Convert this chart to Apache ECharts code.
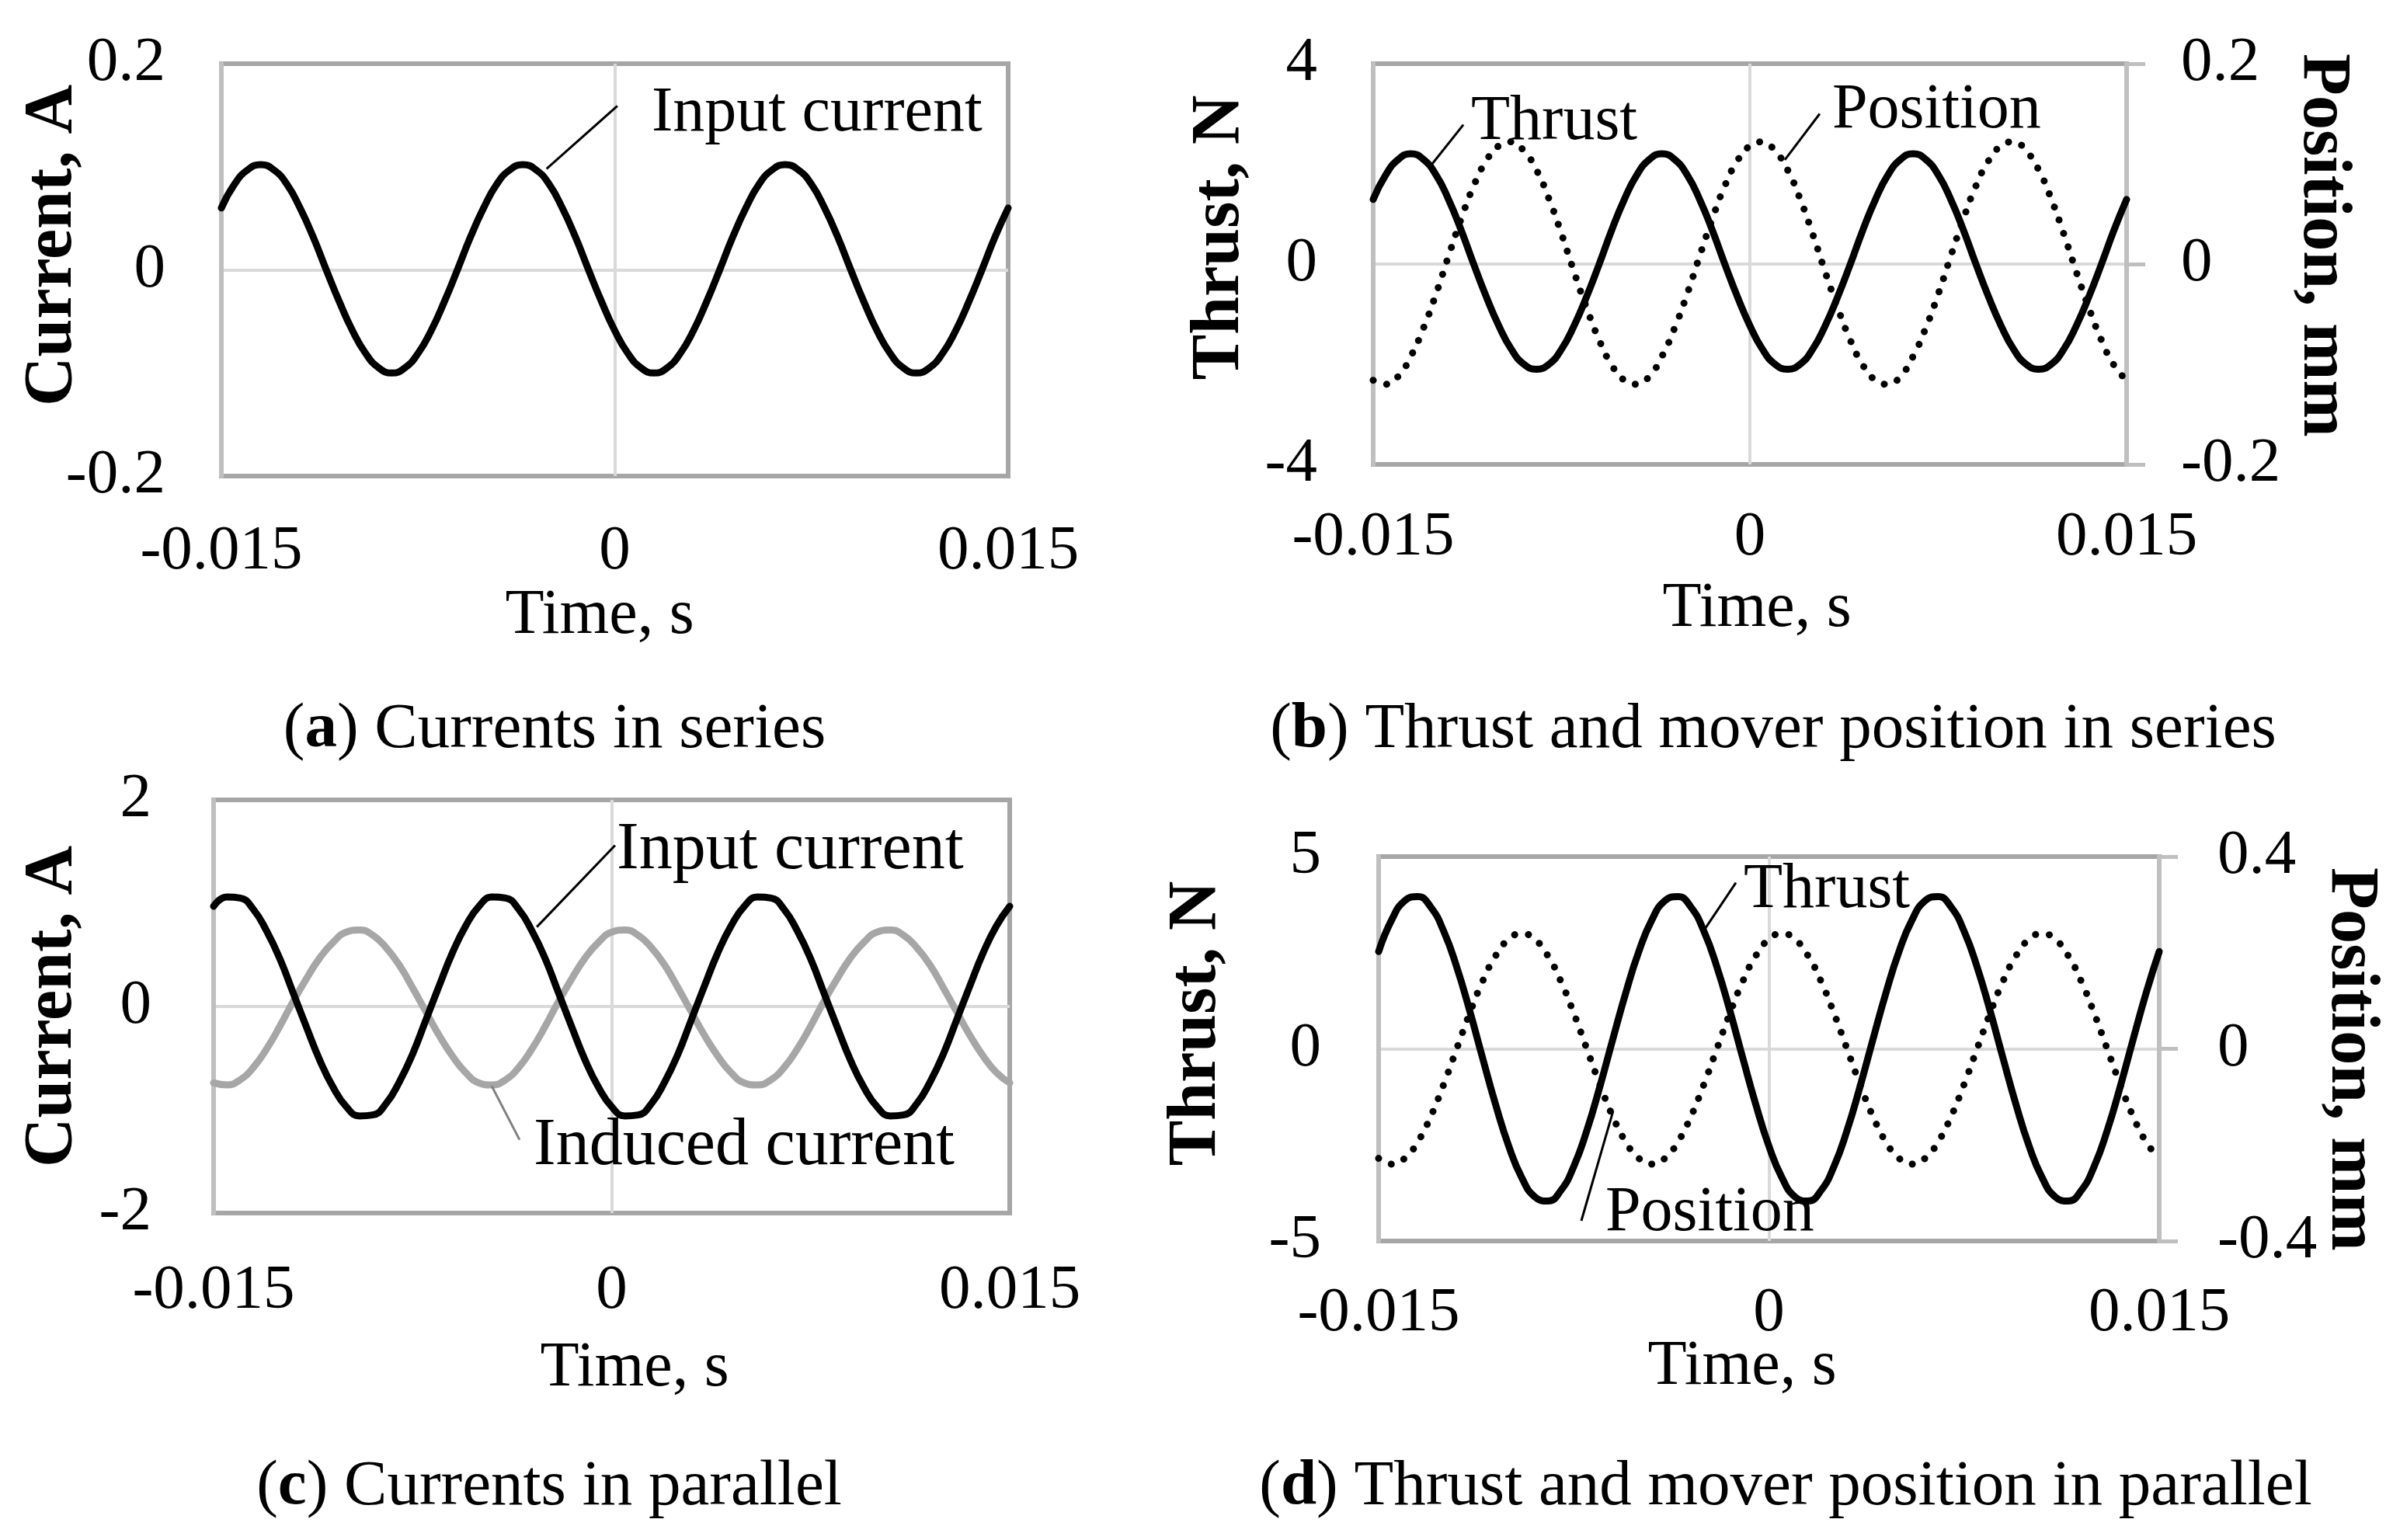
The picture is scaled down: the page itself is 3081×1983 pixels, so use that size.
<!DOCTYPE html>
<html><head><meta charset="utf-8">
<script src="https://cdn.jsdelivr.net/npm/echarts@6/dist/echarts.min.js"></script>
<style>html,body{margin:0;padding:0;background:#fff}#c{width:3081px;height:1983px}</style>
</head><body><div id="c"></div>
<script>
// ---------- data ----------
const time = [
-0.015,-0.0145,-0.014,-0.0135,-0.013,-0.0125,-0.012,-0.0115,-0.011,-0.0105,
-0.01,-0.0095,-0.009,-0.0085,-0.008,-0.0075,-0.007,-0.0065,-0.006,-0.0055,
-0.005,-0.0045,-0.004,-0.0035,-0.003,-0.0025,-0.002,-0.0015,-0.001,-0.0005,
0,0.0005,0.001,0.0015,0.002,0.0025,0.003,0.0035,0.004,0.0045,
0.005,0.0055,0.006,0.0065,0.007,0.0075,0.008,0.0085,0.009,0.0095,
0.01,0.0105,0.011,0.0115,0.012,0.0125,0.013,0.0135,0.014,0.0145,0.015];

const xTicks = [-0.015, 0, 0.015];
const xTickLabels = ['-0.015', '0', '0.015'];
const aTicks = [-0.2, 0, 0.2];      const aTickLabels = ['-0.2', '0', '0.2'];
const bLeftTicks = [-4, 0, 4];      const bLeftTickLabels = ['-4', '0', '4'];
const bRightTicks = [-0.2, 0, 0.2]; const bRightTickLabels = ['-0.2', '0', '0.2'];
const cTicks = [-2, 0, 2];          const cTickLabels = ['-2', '0', '2'];
const dLeftTicks = [-5, 0, 5];      const dLeftTickLabels = ['-5', '0', '5'];
const dRightTicks = [-0.4, 0, 0.4]; const dRightTickLabels = ['-0.4', '0', '0.4'];

// (a) input current in series, A
const aInputCurrent = [
0.060,0.083,0.097,0.102,0.097,0.083,0.060,0.032,0.000,-0.031,-0.059,-0.081,-0.095,-0.100,-0.095,-0.081,-0.059,-0.031,0.000,0.032,
0.060,0.083,0.097,0.102,0.097,0.083,0.060,0.032,0.000,-0.031,-0.059,-0.081,-0.095,-0.100,-0.095,-0.081,-0.059,-0.031,0.000,0.032,
0.060,0.083,0.097,0.102,0.097,0.083,0.060,0.032,0.000,-0.031,-0.059,-0.081,-0.095,-0.100,-0.095,-0.081,-0.059,-0.031,0.000,0.032,
0.060];
// (b) thrust, N and position, mm in series
const bThrust = [
1.29,1.78,2.09,2.20,2.09,1.78,1.29,0.68,0.00,-0.65,-1.23,-1.70,-2.00,-2.10,-2.00,-1.70,-1.23,-0.65,0.00,0.68,
1.29,1.78,2.09,2.20,2.09,1.78,1.29,0.68,0.00,-0.65,-1.23,-1.70,-2.00,-2.10,-2.00,-1.70,-1.23,-0.65,0.00,0.68,
1.29,1.78,2.09,2.20,2.09,1.78,1.29,0.68,0.00,-0.65,-1.23,-1.70,-2.00,-2.10,-2.00,-1.70,-1.23,-0.65,0.00,0.68,
1.29];
const bPosition = [
-0.116,-0.120,-0.112,-0.092,-0.064,-0.030,0.008,0.045,0.078,0.103,0.118,0.122,0.113,0.094,0.065,0.030,-0.008,-0.044,-0.076,-0.101,
-0.116,-0.120,-0.112,-0.092,-0.064,-0.030,0.008,0.045,0.078,0.103,0.118,0.122,0.113,0.094,0.065,0.030,-0.008,-0.044,-0.076,-0.101,
-0.116,-0.120,-0.112,-0.092,-0.064,-0.030,0.008,0.045,0.078,0.103,0.118,0.122,0.113,0.094,0.065,0.030,-0.008,-0.044,-0.076,-0.101,
-0.116];
// (c) currents in parallel, A
const cInputCurrent = [
0.97,1.06,1.05,0.94,0.73,0.46,0.13,-0.20,-0.52,-0.78,-0.97,-1.06,-1.05,-0.94,-0.73,-0.46,-0.13,0.20,0.52,0.78,
0.97,1.06,1.05,0.94,0.73,0.46,0.13,-0.20,-0.52,-0.78,-0.97,-1.06,-1.05,-0.94,-0.73,-0.46,-0.13,0.20,0.52,0.78,
0.97,1.06,1.05,0.94,0.73,0.46,0.13,-0.20,-0.52,-0.78,-0.97,-1.06,-1.05,-0.94,-0.73,-0.46,-0.13,0.20,0.52,0.78,
0.97];
const cInducedCurrent = [
-0.74,-0.76,-0.71,-0.59,-0.41,-0.19,0.05,0.27,0.47,0.62,0.72,0.74,0.69,0.57,0.40,0.18,-0.05,-0.28,-0.48,-0.64,
-0.74,-0.76,-0.71,-0.59,-0.41,-0.19,0.05,0.27,0.47,0.62,0.72,0.74,0.69,0.57,0.40,0.18,-0.05,-0.28,-0.48,-0.64,
-0.74,-0.76,-0.71,-0.59,-0.41,-0.19,0.05,0.27,0.47,0.62,0.72,0.74,0.69,0.57,0.40,0.18,-0.05,-0.28,-0.48,-0.64,
-0.74];
// (d) thrust, N and position, mm in parallel
const dThrust = [
2.53,3.35,3.85,3.96,3.69,3.06,2.13,0.99,-0.25,-1.46,-2.53,-3.35,-3.85,-3.96,-3.69,-3.06,-2.13,-0.99,0.25,1.46,
2.53,3.35,3.85,3.96,3.69,3.06,2.13,0.99,-0.25,-1.46,-2.53,-3.35,-3.85,-3.96,-3.69,-3.06,-2.13,-0.99,0.25,1.46,
2.53,3.35,3.85,3.96,3.69,3.06,2.13,0.99,-0.25,-1.46,-2.53,-3.35,-3.85,-3.96,-3.69,-3.06,-2.13,-0.99,0.25,1.46,
2.53];
const dPosition = [
-0.228,-0.240,-0.228,-0.194,-0.141,-0.074,0.000,0.074,0.141,0.194,0.228,0.240,0.228,0.194,0.141,0.074,0.000,-0.074,-0.141,-0.194,
-0.228,-0.240,-0.228,-0.194,-0.141,-0.074,0.000,0.074,0.141,0.194,0.228,0.240,0.228,0.194,0.141,0.074,0.000,-0.074,-0.141,-0.194,
-0.228,-0.240,-0.228,-0.194,-0.141,-0.074,0.000,0.074,0.141,0.194,0.228,0.240,0.228,0.194,0.141,0.074,0.000,-0.074,-0.141,-0.194,
-0.228];

// ---------- helpers ----------
const FONT = "'Liberation Serif', 'Times New Roman', serif";
function pairs(vals) { return time.map((t, i) => [t, vals[i]]); }
function fmt(ticks, labels) {
  return function (v) {
    for (let i = 0; i < ticks.length; i++) if (Math.abs(v - ticks[i]) < 1e-9) return labels[i];
    return '';
  };
}
const SPLIT = { show: true, showMinLine: false, showMaxLine: false, lineStyle: { color: '#d9d9d9', width: 4 } };
function xAx(g, margin) {
  return { type: 'value', gridIndex: g, min: -0.015, max: 0.015, interval: 0.015,
    axisLine: { show: false, onZero: false }, axisTick: { show: false },
    axisLabel: { margin: margin, fontSize: 81, fontFamily: FONT, color: '#000', formatter: fmt(xTicks, xTickLabels) },
    splitLine: SPLIT };
}
function yLeft(g, ticks, labels, margin) {
  return { type: 'value', gridIndex: g, position: 'left', min: ticks[0], max: ticks[2], interval: ticks[2], z: 1,
    axisLine: { show: true, onZero: false, lineStyle: { color: '#bfbfbf', width: 6 } }, axisTick: { show: false },
    axisLabel: { margin: margin, fontSize: 81, fontFamily: FONT, color: '#000', formatter: fmt(ticks, labels) },
    splitLine: SPLIT };
}
function yRight(g, ticks, labels, margin) {
  return { type: 'value', gridIndex: g, position: 'right', min: ticks[0], max: ticks[2], interval: ticks[2], z: 1,
    axisLine: { show: true, onZero: false, lineStyle: { color: '#bfbfbf', width: 6 } },
    axisTick: { show: true, inside: false, length: 24, lineStyle: { color: '#bfbfbf', width: 5 } },
    axisLabel: { margin: margin, fontSize: 81, fontFamily: FONT, color: '#000', formatter: fmt(ticks, labels) },
    splitLine: { show: false } };
}
function leader(from, to, color) {
  return { silent: true, symbol: ['none', 'none'], animation: false, label: { show: false },
    emphasis: { disabled: true },
    lineStyle: { color: color, width: 3, type: 'solid' },
    data: [[{ coord: from }, { coord: to }]] };
}
function solid(xi, yi, vals, color, ml) {
  const s = { type: 'line', xAxisIndex: xi, yAxisIndex: yi, data: pairs(vals), showSymbol: false, smooth: true,
    lineStyle: { color: color, width: 9, cap: 'round', join: 'round' }, z: 3 };
  if (ml) s.markLine = ml;
  return s;
}
function dotted(xi, yi, vals, ml) {
  const s = { type: 'line', xAxisIndex: xi, yAxisIndex: yi, data: pairs(vals), showSymbol: false, smooth: true,
    lineStyle: { color: '#000', width: 9, type: [0.1, 18], cap: 'round', join: 'round' }, z: 3 };
  if (ml) s.markLine = ml;
  return s;
}
function txt(text, x, y, o) {
  o = o || {};
  return { type: 'text', x: x, y: y, rotation: o.rot || 0, z: 10,
    style: { text: text, fill: '#000', fontSize: o.size || 82, fontFamily: FONT, fontWeight: o.weight || 'normal',
      align: o.align || 'left', verticalAlign: 'middle',
      rich: { b: { fontWeight: 'bold', fontSize: o.size || 82, fontFamily: FONT, fill: '#000' } } } };
}

const GRID = { show: true, borderColor: '#a6a6a6', borderWidth: 6, backgroundColor: 'transparent' };
const TITLE = 88;
const option = {
  animation: false,
  backgroundColor: '#fff',
  grid: [
    Object.assign({ left: 285, top: 82, width: 1013, height: 531 }, GRID),
    Object.assign({ left: 1768, top: 82, width: 970, height: 516 }, GRID),
    Object.assign({ left: 275, top: 1030, width: 1025, height: 532 }, GRID),
    Object.assign({ left: 1775, top: 1103, width: 1005, height: 495 }, GRID)
  ],
  xAxis: [xAx(0, 57), xAx(1, 54), xAx(2, 60), xAx(3, 53)],
  yAxis: [
    yLeft(0, aTicks, aTickLabels, 72),
    yLeft(1, bLeftTicks, bLeftTickLabels, 72),
    yRight(1, bRightTicks, bRightTickLabels, 70),
    yLeft(2, cTicks, cTickLabels, 80),
    yLeft(3, dLeftTicks, dLeftTickLabels, 74),
    yRight(3, dRightTicks, dRightTickLabels, 75)
  ],
  series: [
    solid(0, 0, aInputCurrent, '#000', leader([-0.0026, 0.098], [0.0001, 0.159], '#000')),
    solid(1, 1, bThrust, '#000', leader([-0.01268, 1.98], [-0.01141, 2.78], '#000')),
    dotted(1, 2, bPosition, leader([0.00139, 0.104], [0.00278, 0.150], '#000')),
    solid(2, 3, cInducedCurrent, '#a6a6a6', leader([-0.00452, -0.77], [-0.00347, -1.29], '#808080')),
    solid(2, 3, cInputCurrent, '#000', leader([-0.00282, 0.77], [0.00013, 1.56], '#000')),
    solid(3, 4, dThrust, '#000', leader([-0.00249, 3.09], [-0.00127, 4.32], '#000')),
    dotted(3, 5, dPosition, leader([-0.00599, -0.130], [-0.00721, -0.358], '#000'))
  ],
  graphic: { elements: [
    // series annotations
    txt('Input current', 839, 146),
    txt('Thrust', 1894, 157),
    txt('Position', 2359, 142),
    txt('Input current', 794, 1095, { size: 86 }),
    txt('Induced current', 687, 1476, { size: 86 }),
    txt('Thrust', 2245, 1146),
    txt('Position', 2067, 1562),
    // axis titles
    txt('Time, s', 772, 793, { align: 'center' }),
    txt('Time, s', 2262, 784, { align: 'center' }),
    txt('Time, s', 817, 1762, { align: 'center' }),
    txt('Time, s', 2243, 1760, { align: 'center' }),
    txt('Current, A', 68, 316, { align: 'center', rot: Math.PI / 2, weight: 'bold', size: TITLE }),
    txt('Thrust, N', 1571, 306, { align: 'center', rot: Math.PI / 2, weight: 'bold', size: TITLE }),
    txt('Position, mm', 2990, 316, { align: 'center', rot: -Math.PI / 2, weight: 'bold', size: TITLE }),
    txt('Current, A', 68, 1296, { align: 'center', rot: Math.PI / 2, weight: 'bold', size: TITLE }),
    txt('Thrust, N', 1541, 1318, { align: 'center', rot: Math.PI / 2, weight: 'bold', size: TITLE }),
    txt('Position, mm', 3026, 1364, { align: 'center', rot: -Math.PI / 2, weight: 'bold', size: TITLE }),
    // captions
    txt('({b|a}) Currents in series', 714, 940, { align: 'center', size: 83 }),
    txt('({b|b}) Thrust and mover position in series', 2283, 940, { align: 'center', size: 83 }),
    txt('({b|c}) Currents in parallel', 707, 1915, { align: 'center', size: 83 }),
    txt('({b|d}) Thrust and mover position in parallel', 2299, 1915, { align: 'center', size: 83 })
  ] }
};
const chart = echarts.init(document.getElementById('c'), null, { renderer: 'canvas' });
chart.setOption(option);
</script>
</body></html>
